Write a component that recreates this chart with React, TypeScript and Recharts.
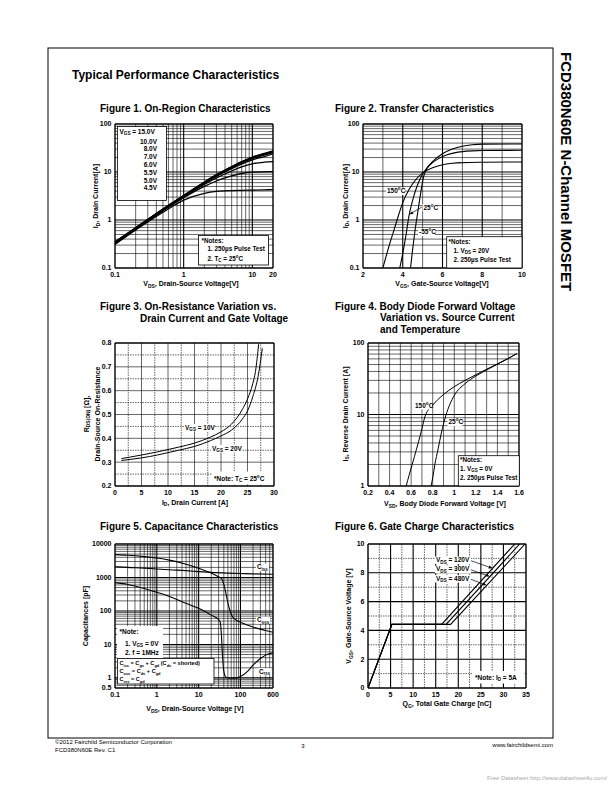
import React from "react";
import { LineChart, Line, XAxis, YAxis, ReferenceLine } from "recharts";

const FONT = "'Liberation Sans', Arial, Helvetica, sans-serif";

// ---------- Figure 1: On-Region Characteristics ----------
const fig1Vds = [0.1, 0.2, 0.5, 1, 2, 3, 5, 7, 10, 15, 20];
const fig1Id15V = [0.35, 0.69, 1.7, 3.25, 6.2, 8.8, 13, 16.5, 20.5, 24.5, 27.5];
const fig1Id10V = [0.35, 0.69, 1.69, 3.22, 6.1, 8.7, 12.8, 16.2, 20, 24, 27];
const fig1Id8V = [0.34, 0.68, 1.67, 3.2, 6.0, 8.5, 12.5, 15.8, 19.5, 23.5, 26.5];
const fig1Id7V = [0.34, 0.67, 1.65, 3.15, 5.9, 8.3, 12.2, 15.4, 19, 22.5, 25.5];
const fig1Id6V = [0.33, 0.66, 1.62, 3.1, 5.8, 8.1, 11.7, 14.6, 17.8, 21, 24];
const fig1Id55V = [0.33, 0.65, 1.58, 3.0, 5.5, 7.5, 10.5, 12.8, 14.8, 16, 16.5];
const fig1Id5V = [0.32, 0.64, 1.55, 2.9, 5.0, 6.5, 8.3, 9.3, 9.9, 10.1, 10.2];
const fig1Id45V = [0.31, 0.62, 1.45, 2.6, 3.6, 3.95, 4.1, 4.15, 4.2, 4.25, 4.3];
const fig1Curves = [fig1Id15V, fig1Id10V, fig1Id8V, fig1Id7V, fig1Id6V, fig1Id55V, fig1Id5V, fig1Id45V];
const fig1VgsLabels = ["10.0V", "8.0V", "7.0V", "6.0V", "5.5V", "5.0V", "4.5V"];
const fig1XTicks = [0.1, 1, 10, 20];
const fig1YTicks = [0.1, 1, 10, 100];

// ---------- Figure 2: Transfer Characteristics ----------
const fig2Vgs150 = [3.0, 3.2, 3.4, 3.6, 3.8, 4.0, 4.3, 4.6, 5.0, 5.5, 6.0, 6.5, 7.0, 8.0, 10.0];
const fig2Id150 = [0.1, 0.2, 0.38, 0.7, 1.3, 2.3, 4.2, 6.5, 9.6, 12.3, 14.2, 15.2, 15.7, 16.0, 16.2];
const fig2Vgs25 = [3.85, 4.0, 4.15, 4.32, 4.5, 4.7, 4.9, 5.1, 5.4, 5.8, 6.2, 6.6, 7.0, 7.5, 8.0, 10.0];
const fig2Id25 = [0.1, 0.2, 0.45, 1.26, 2.6, 4.8, 7.6, 10.5, 14.5, 19, 22.5, 25, 26.6, 27.6, 28, 28.3];
const fig2VgsM55 = [4.39, 4.5, 4.61, 4.75, 4.9, 5.05, 5.2, 5.5, 6.0, 6.5, 7.0, 7.5, 8.0, 10.0];
const fig2IdM55 = [0.1, 0.25, 0.57, 1.4, 3.6, 8, 11.5, 16.5, 24, 30, 34.5, 37, 38, 38.3];
const fig2XTicks = [2, 4, 6, 8, 10];
const fig2YTicks = [0.1, 1, 10, 100];

// ---------- Figure 3: On-Resistance vs Drain Current ----------
const fig3Id10V = [1.2, 3, 5, 8, 10, 12, 15, 18, 20, 22, 24, 25, 26, 26.5, 27.1];
const fig3Rds10V = [0.315, 0.322, 0.33, 0.343, 0.353, 0.363, 0.38, 0.405, 0.427, 0.46, 0.52, 0.565, 0.63, 0.68, 0.795];
const fig3Id20V = [1.2, 3, 5, 8, 10, 12, 15, 18, 20, 22, 24, 25, 26, 27, 27.8];
const fig3Rds20V = [0.307, 0.312, 0.318, 0.33, 0.34, 0.35, 0.366, 0.39, 0.41, 0.435, 0.48, 0.515, 0.575, 0.66, 0.778];
const fig3XTicks = [0, 5, 10, 15, 20, 25, 30];
const fig3YTicks = [0.2, 0.3, 0.4, 0.5, 0.6, 0.7, 0.8];

// ---------- Figure 4: Body Diode Forward Voltage ----------
const fig4Vsd150 = [0.554, 0.58, 0.61, 0.65, 0.69, 0.73, 0.8, 0.9, 1.0, 1.1, 1.2, 1.3, 1.4, 1.5, 1.58];
const fig4Is150 = [1, 1.4, 2, 3.3, 5.5, 9.5, 13.5, 19, 24.5, 30, 36, 43, 51, 61, 71];
const fig4Vsd25 = [0.785, 0.8, 0.82, 0.85, 0.88, 0.92, 0.96, 1.0, 1.1, 1.2, 1.3, 1.4, 1.5, 1.58];
const fig4Is25 = [1, 1.3, 2, 3.3, 5.5, 9.5, 14, 18.5, 27, 34.5, 42, 50.5, 60.5, 71];
const fig4XTicks = [0.2, 0.4, 0.6, 0.8, 1.0, 1.2, 1.4, 1.6];
const fig4YTicks = [1, 10, 100];

// ---------- Figure 5: Capacitance Characteristics ----------
const fig5VdsCiss = [0.1, 0.2, 0.5, 1, 2, 5, 10, 20, 50, 100, 200, 600];
const fig5Ciss = [2100, 2000, 1900, 1800, 1700, 1600, 1500, 1420, 1350, 1310, 1280, 1250];
const fig5VdsCoss = [0.1, 0.2, 0.5, 1, 2, 5, 10, 20, 30, 36, 40, 44, 48, 53, 58, 65, 80, 100, 200, 400, 600];
const fig5Coss = [4800, 4600, 4200, 3800, 3300, 2500, 1900, 1350, 1050, 900, 620, 380, 220, 130, 90, 66, 53, 46, 33, 26, 23];
const fig5VdsCrss = [0.1, 0.2, 0.5, 1, 2, 5, 10, 20, 30, 33, 35, 37, 40, 45, 60, 80, 100, 150, 200, 300, 400, 600];
const fig5Crss = [700, 620, 470, 360, 270, 170, 120, 75, 55, 45, 20, 5, 1.6, 1.05, 0.98, 1.0, 1.1, 1.6, 2.4, 3.8, 4.8, 5.7];
const fig5XTicks = [0.1, 1, 10, 100, 600];
const fig5YTicks = [0.5, 1, 10, 100, 1000, 10000];

// ---------- Figure 6: Gate Charge Characteristics ----------
const fig6Vgs = [0, 4.42, 4.42, 10];
const fig6Qg120 = [0, 5.3, 16.3, 32.5];
const fig6Qg300 = [0, 5.3, 17.3, 33.6];
const fig6Qg480 = [0, 5.3, 18.3, 34.8];
const fig6XTicks = [0, 5, 10, 15, 20, 25, 30, 35];
const fig6YTicks = [0, 2, 4, 6, 8, 10];

// ---------- helpers ----------
const pts = (xs: number[], ys: number[]) => xs.map((x, i) => ({ x, y: ys[i] }));

function logGrid(lo: number, hi: number, decades: boolean) {
  const out: number[] = [];
  for (let p = -2; p <= 4; p++) {
    for (let m = 1; m <= 9; m++) {
      const v = Number((m * Math.pow(10, p)).toPrecision(6));
      if (v > lo && v < hi && (m === 1) === decades) out.push(v);
    }
  }
  return out;
}
function linGrid(lo: number, hi: number, step: number, skip?: number) {
  const out: number[] = [];
  for (let v = lo + step; v < hi - 1e-9; v += step) {
    const r = Number(v.toFixed(4));
    if (skip && Math.abs(r / skip - Math.round(r / skip)) < 1e-6) continue;
    out.push(r);
  }
  return out;
}

const vLines = (vals: number[], w: number, dash?: string) =>
  vals.map((v) => (
    <ReferenceLine key={`v${v}-${w}-${dash || ""}`} x={v} stroke="#000" strokeWidth={w} strokeDasharray={dash} ifOverflow="visible" />
  ));
const hLines = (vals: number[], w: number, dash?: string) =>
  vals.map((v) => (
    <ReferenceLine key={`h${v}-${w}-${dash || ""}`} y={v} stroke="#000" strokeWidth={w} strokeDasharray={dash} ifOverflow="visible" />
  ));

const curve = (xs: number[], ys: number[], key: string, w = 1.1, type: any = "monotone") => (
  <Line key={key} data={pts(xs, ys)} dataKey="y" type={type} stroke="#000" strokeWidth={w} dot={false} activeDot={false} isAnimationActive={false} />
);

const arrowShape = (p: any) => {
  const { x1, y1, x2, y2 } = p;
  const a = Math.atan2(y2 - y1, x2 - x1);
  const L = 4, W = 1.5;
  const bx = x2 - L * Math.cos(a), by = y2 - L * Math.sin(a);
  const poly = `${x2},${y2} ${bx - W * Math.sin(a)},${by + W * Math.cos(a)} ${bx + W * Math.sin(a)},${by - W * Math.cos(a)}`;
  return (
    <g>
      <line x1={x1} y1={y1} x2={bx} y2={by} stroke="#000" strokeWidth={0.7} />
      <polygon points={poly} fill="#000" />
    </g>
  );
};

const tickFont = { fontSize: 7, fontWeight: 700, fill: "#000", fontFamily: FONT };
const MINOR = 0.6;
const MAJOR = 1.1;
const EDGE = 1.4;
const DASH = "1.5 1";

const PL = 40, PR = 14, PT = 6, PB = 22;
type Box = { x: number; y: number; w: number; h: number };
const BOX1: Box = { x: 115, y: 124, w: 158, h: 144 };
const BOX2: Box = { x: 363, y: 124, w: 159, h: 144 };
const BOX3: Box = { x: 115, y: 343, w: 159, h: 143 };
const BOX4: Box = { x: 368, y: 343, w: 151, h: 143 };
const BOX5: Box = { x: 115, y: 544, w: 158, h: 144 };
const BOX6: Box = { x: 368, y: 544, w: 158, h: 144 };

function Panel({ box, children }: { box: Box; children: React.ReactNode }) {
  return (
    <div style={{ position: "absolute", left: box.x - PL, top: box.y - PT }}>
      <LineChart width={box.w + PL + PR} height={box.h + PT + PB} margin={{ top: PT, right: PR, left: 0, bottom: 0 }}>
        {children}
      </LineChart>
    </div>
  );
}

const xAx = (domain: number[], ticks: number[], log = false) => (
  <XAxis
    type="number"
    dataKey="x"
    scale={log ? "log" : "linear"}
    domain={domain}
    ticks={ticks}
    interval={0}
    allowDataOverflow
    tick={tickFont}
    tickLine={false}
    axisLine={false}
    tickSize={2}
    tickMargin={2.5}
    height={PB}
  />
);
const yAx = (domain: number[], ticks: number[], log = false) => (
  <YAxis
    type="number"
    scale={log ? "log" : "linear"}
    domain={domain}
    ticks={ticks}
    interval={0}
    allowDataOverflow
    tick={tickFont}
    tickLine={false}
    axisLine={false}
    tickSize={2}
    tickMargin={1.5}
    width={PL}
  />
);

// rich text: string or [text, "b"(subscript) | "p"(superscript)]
type Seg = string | [string, "b" | "p"];
function Txt({ x, y, s, size = 7, bold = true, anchor = "start", rot = 0, fill = "#000" }: any) {
  const segs: Seg[] = Array.isArray(s) ? s : [s];
  let cur = 0;
  const kids = segs.map((g, i) => {
    const [t, k] = typeof g === "string" ? [g, ""] : g;
    const tgt = k === "b" ? size * 0.28 : k === "p" ? -size * 0.42 : 0;
    const dy = tgt - cur;
    cur = tgt;
    return (
      <tspan key={i} dy={dy} fontSize={k ? size * 0.7 : size}>
        {t}
      </tspan>
    );
  });
  return (
    <text x={x} y={y} fontSize={size} fontWeight={bold ? 700 : 400} textAnchor={anchor} fill={fill} fontFamily={FONT} transform={rot ? `rotate(${rot} ${x} ${y})` : undefined}>
      {kids}
    </text>
  );
}
function Tag({ x, y, w, s, size = 6.5 }: any) {
  return (
    <g>
      <rect x={x - 1} y={y - size * 0.85} width={w} height={size * 1.15} fill="#fff" />
      <Txt x={x} y={y} s={s} size={size} />
    </g>
  );
}
const deg = (t: string): Seg[] => [t, ["o", "p"], "C"];

export default function App() {
  return (
    <div style={{ position: "absolute", left: 0, top: 0, width: 612, height: 792, background: "#fff", fontFamily: FONT }}>
      {/* Figure 1 */}
      <Panel box={BOX1}>
        {xAx([0.1, 20], fig1XTicks, true)}
        {yAx([0.1, 100], fig1YTicks, true)}
        {vLines(logGrid(0.1, 20, false), MINOR)}
        {vLines(logGrid(0.1, 20, true), MAJOR)}
        {hLines(logGrid(0.1, 100, false), MINOR)}
        {hLines(logGrid(0.1, 100, true), MAJOR)}
        {vLines([0.1, 20], EDGE)}
        {hLines([0.1, 100], EDGE)}
        {fig1Curves.map((c, i) => curve(fig1Vds, c, `f1-${i}`, 1.3))}
      </Panel>

      {/* Figure 2 */}
      <Panel box={BOX2}>
        {xAx([2, 10], fig2XTicks)}
        {yAx([0.1, 100], fig2YTicks, true)}
        {vLines([3, 5, 7, 9], MINOR)}
        {vLines([4, 6, 8], MAJOR)}
        {hLines(logGrid(0.1, 100, false), MINOR)}
        {hLines(logGrid(0.1, 100, true), MAJOR)}
        {vLines([2, 10], EDGE)}
        {hLines([0.1, 100], EDGE)}
        {curve(fig2Vgs150, fig2Id150, "f2a", 1.1)}
        {curve(fig2Vgs25, fig2Id25, "f2b", 1.1)}
        {curve(fig2VgsM55, fig2IdM55, "f2c", 1.1)}
        <ReferenceLine segment={[{ x: 4.96, y: 1.86 }, { x: 4.33, y: 1.3 }]} shape={arrowShape} ifOverflow="visible" />
      </Panel>

      {/* Figure 3 */}
      <Panel box={BOX3}>
        {xAx([0, 30], fig3XTicks)}
        {yAx([0.2, 0.8], fig3YTicks)}
        {vLines(linGrid(0, 30, 5), MINOR)}
        {vLines(linGrid(0, 30, 2.5, 5), MINOR, DASH)}
        {hLines(linGrid(0.2, 0.8, 0.1), MINOR)}
        {hLines(linGrid(0.2, 0.8, 0.05, 0.1), MINOR, DASH)}
        {vLines([0, 30], EDGE)}
        {hLines([0.2, 0.8], EDGE)}
        {curve(fig3Id10V, fig3Rds10V, "f3a", 1.0)}
        {curve(fig3Id20V, fig3Rds20V, "f3b", 1.0)}
      </Panel>

      {/* Figure 4 */}
      <Panel box={BOX4}>
        {xAx([0.2, 1.6], fig4XTicks)}
        {yAx([1, 100], fig4YTicks, true)}
        {vLines(linGrid(0.2, 1.6, 0.1), MINOR)}
        {hLines(logGrid(1, 100, false), MINOR)}
        {hLines(logGrid(1, 100, true), MAJOR)}
        {vLines([0.2, 1.6], EDGE)}
        {hLines([1, 100], EDGE)}
        {curve(fig4Vsd150, fig4Is150, "f4a", 1.0)}
        {curve(fig4Vsd25, fig4Is25, "f4b", 1.0)}
      </Panel>

      {/* Figure 5 */}
      <Panel box={BOX5}>
        {xAx([0.1, 600], fig5XTicks, true)}
        {yAx([0.5, 10000], fig5YTicks, true)}
        {vLines(logGrid(0.1, 600, false), MINOR)}
        {vLines(logGrid(0.1, 600, true), MAJOR)}
        {hLines(logGrid(0.5, 10000, false), MINOR)}
        {hLines(logGrid(0.5, 10000, true), MAJOR)}
        {vLines([0.1, 600], EDGE)}
        {hLines([0.5, 10000], EDGE)}
        {curve(fig5VdsCiss, fig5Ciss, "f5a", 1.1)}
        {curve(fig5VdsCoss, fig5Coss, "f5b", 1.1)}
        {curve(fig5VdsCrss, fig5Crss, "f5c", 1.1)}
      </Panel>

      {/* Figure 6 */}
      <Panel box={BOX6}>
        {xAx([0, 35], fig6XTicks)}
        {yAx([0, 10], fig6YTicks)}
        {vLines(linGrid(0, 35, 5), MAJOR)}
        {vLines(linGrid(0, 35, 2.5, 5), MINOR, DASH)}
        {hLines(linGrid(0, 10, 2), MAJOR)}
        {hLines(linGrid(0, 10, 1, 2), MINOR, DASH)}
        {vLines([0, 35], EDGE)}
        {hLines([0, 10], EDGE)}
        {curve(fig6Qg120, fig6Vgs, "f6a", 1.1, "linear")}
        {curve(fig6Qg300, fig6Vgs, "f6b", 1.1, "linear")}
        {curve(fig6Qg480, fig6Vgs, "f6c", 1.1, "linear")}
        <ReferenceLine segment={[{ x: 22.8, y: 8.84 }, { x: 27.6, y: 8.31 }]} shape={arrowShape} ifOverflow="visible" />
        <ReferenceLine segment={[{ x: 22.8, y: 8.21 }, { x: 27.0, y: 7.74 }]} shape={arrowShape} ifOverflow="visible" />
        <ReferenceLine segment={[{ x: 22.8, y: 7.55 }, { x: 26.3, y: 7.13 }]} shape={arrowShape} ifOverflow="visible" />
      </Panel>

      {/* Text overlay */}
      <svg width={612} height={792} style={{ position: "absolute", left: 0, top: 0, pointerEvents: "none" }}>
        <rect x={48} y={48} width={505} height={690} fill="none" stroke="#000" strokeWidth={1} />
        <Txt x={72} y={79} s="Typical Performance Characteristics" size={12} />
        <Txt x={561} y={52} s="FCD380N60E N-Channel MOSFET" size={15} rot={90} />

        {/* Fig 1 */}
        <Txt x={100} y={112} s="Figure 1. On-Region Characteristics" size={10} />
        <Txt x={98} y={196} s={["I", ["D", "b"], ", Drain Current[A]"]} rot={-90} anchor="middle" />
        <Txt x={191} y={286} s={["V", ["DS", "b"], ", Drain-Source Voltage[V]"]} anchor="middle" />
        <rect x={117.5} y={126.5} width={49} height={74} fill="#fff" stroke="#000" strokeWidth={0.8} />
        <Txt x={119.5} y={133.5} s={["V", ["GS", "b"], " = 15.0V"]} size={6.5} />
        {fig1VgsLabels.map((t, i) => (
          <Txt key={t} x={157} y={143.5 + i * 7.8} s={t} size={6.5} anchor="end" />
        ))}
        <rect x={198.5} y={235.5} width={70} height={29.5} fill="#fff" stroke="#000" strokeWidth={0.8} />
        <Txt x={201.5} y={242.5} s="*Notes:" size={6.3} />
        <Txt x={207.5} y={251} s="1. 250µs Pulse Test" size={6.3} />
        <Txt x={207.5} y={260.5} s={["2. T", ["C", "b"], " = 25", ["o", "p"], "C"]} size={6.3} />

        {/* Fig 2 */}
        <Txt x={335} y={112} s="Figure 2. Transfer Characteristics" size={10} />
        <Txt x={347.5} y={196} s={["I", ["D", "b"], ", Drain Current[A]"]} rot={-90} anchor="middle" />
        <Txt x={442} y={286} s={["V", ["GS", "b"], ", Gate-Source Voltage[V]"]} anchor="middle" />
        <Tag x={387} y={193} w={19} s={deg("150")} />
        <Tag x={423.5} y={209.5} w={15} s={deg("25")} />
        <Tag x={419} y={234} w={17} s={deg("-55")} />
        <rect x={446.7} y={236.7} width={75.3} height={31.3} fill="#fff" stroke="#000" strokeWidth={0.8} />
        <Txt x={448.5} y={243.5} s="*Notes:" size={6.3} />
        <Txt x={453.5} y={252.5} s={["1. V", ["DS", "b"], " = 20V"]} size={6.3} />
        <Txt x={453.5} y={261.5} s="2. 250µs Pulse Test" size={6.3} />

        {/* Fig 3 */}
        <Txt x={100} y={310} s="Figure 3. On-Resistance Variation vs." size={10} />
        <Txt x={140} y={321.5} s="Drain Current and Gate Voltage" size={10} />
        <Txt x={88.5} y={414} s={["R", ["DS(ON)", "b"], " [Ω],"]} rot={-90} anchor="middle" />
        <Txt x={99.5} y={414} s="Drain-Source On-Resistance" rot={-90} anchor="middle" />
        <Txt x={195} y={504.5} s={["I", ["D", "b"], ", Drain Current [A]"]} anchor="middle" />
        <Tag x={185} y={429.5} w={31} s={["V", ["GS", "b"], " = 10V"]} />
        <Tag x={212} y={450.5} w={31} s={["V", ["GS", "b"], " = 20V"]} />
        <rect x={212} y={471.5} width={61} height={13} fill="#fff" />
        <Txt x={214} y={480.5} s={["*Note: T", ["C", "b"], " = 25", ["o", "p"], "C"]} size={6.5} />

        {/* Fig 4 */}
        <Txt x={335} y={309.5} s="Figure 4. Body Diode Forward Voltage" size={10} />
        <Txt x={380} y={321} s="Variation vs. Source Current" size={10} />
        <Txt x={380} y={332.5} s="and Temperature" size={10} />
        <Txt x={347.5} y={414} s={["I", ["S", "b"], ", Reverse Drain Current [A]"]} rot={-90} anchor="middle" />
        <Txt x={445} y={506} s={["V", ["SD", "b"], ", Body Diode Forward Voltage [V]"]} anchor="middle" />
        <Tag x={415} y={407.5} w={18} s={deg("150")} />
        <Tag x={448.5} y={424} w={15} s={deg("25")} />
        <rect x={458.3} y={455.7} width={61} height={30.3} fill="#fff" stroke="#000" strokeWidth={0.8} />
        <Txt x={460} y={462} s="*Notes:" size={6.3} />
        <Txt x={460} y={470.5} s={["1. V", ["GS", "b"], " = 0V"]} size={6.3} />
        <Txt x={460} y={480} s="2. 250µs Pulse Test" size={6.3} />

        {/* Fig 5 */}
        <Txt x={100} y={529.5} s="Figure 5. Capacitance Characteristics" size={10} />
        <Txt x={87.5} y={616} s="Capacitances [pF]" rot={-90} anchor="middle" />
        <Txt x={195} y={711} s={["V", ["DS", "b"], ", Drain-Source Voltage [V]"]} anchor="middle" />
        <Tag x={257} y={569} w={13} s={["C", ["iss", "b"]]} size={6.3} />
        <Tag x={257} y={622} w={14} s={["C", ["oss", "b"]]} size={6.3} />
        <Tag x={259} y={673.5} w={13} s={["C", ["rss", "b"]]} size={6.3} />
        <rect x={117} y={626} width={46} height={32} fill="#fff" />
        <Txt x={119.5} y={634} s="*Note:" size={6.5} />
        <Txt x={125} y={645.5} s={["1. V", ["GS", "b"], " = 0V"]} size={6.5} />
        <Txt x={125} y={654.5} s="2. f = 1MHz" size={6.5} />
        <rect x={117.5} y={658.5} width={96.5} height={25.5} fill="#fff" stroke="#000" strokeWidth={0.8} />
        <Txt x={119.5} y={665} s={["C", ["iss", "b"], " = C", ["gs", "b"], " + C", ["gd", "b"], " (C", ["ds", "b"], " = shorted)"]} size={5.6} />
        <Txt x={119.5} y={673.2} s={["C", ["oss", "b"], " = C", ["ds", "b"], " + C", ["gd", "b"]]} size={5.6} />
        <Txt x={119.5} y={681.4} s={["C", ["rss", "b"], " = C", ["gd", "b"]]} size={5.6} />

        {/* Fig 6 */}
        <Txt x={335} y={529.5} s="Figure 6. Gate Charge Characteristics" size={10} />
        <Txt x={351} y={616} s={["V", ["GS", "b"], ", Gate-Source Voltage [V]"]} rot={-90} anchor="middle" />
        <Txt x={447} y={706} s={["Q", ["G", "b"], ", Total Gate Charge [nC]"]} anchor="middle" />
        <Tag x={436} y={562} w={36} s={["V", ["DS", "b"], " = 120V"]} />
        <Tag x={436} y={571.3} w={36} s={["V", ["DS", "b"], " = 300V"]} />
        <Tag x={436} y={580.6} w={36} s={["V", ["DS", "b"], " = 480V"]} />
        <rect x={473} y={671} width={51} height={12.5} fill="#fff" />
        <Txt x={475} y={679.5} s={["*Note: I", ["D", "b"], " = 5A"]} size={6.5} />

        {/* Footer */}
        <Txt x={55} y={744} s="©2012 Fairchild Semiconductor Corporation" size={6} bold={false} />
        <Txt x={55} y={752} s="FCD380N60E Rev. C1" size={6} bold={false} />
        <Txt x={303} y={748} s="3" size={6} bold={false} anchor="middle" />
        <Txt x={553} y={747} s="www.fairchildsemi.com" size={6} bold={false} anchor="end" />
        <Txt x={487} y={780} s="Free Datasheet http://www.datasheet4u.com/" size={6} bold={false} fill="#aaa" />
      </svg>
    </div>
  );
}
